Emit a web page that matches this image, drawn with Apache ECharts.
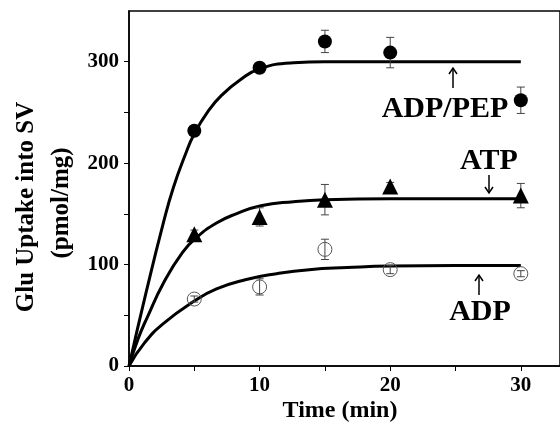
<!DOCTYPE html>
<html>
<head>
<meta charset="utf-8">
<script src="https://cdn.jsdelivr.net/npm/echarts@6/dist/echarts.min.js"></script>
<style>html,body{margin:0;padding:0;background:#fff}#c{width:560px;height:434px}</style>
</head>
<body>
<div id="c"></div>
<script>
// ---- data ----
var times = [5, 10, 15, 20, 30];
var adpPepMean = [232, 294, 320, 309, 262];
var adpPepErr = [4, 4, 11, 15, 13];
var atpMean = [130, 147, 164, 177, 168];
var atpErr = [4, 9, 15, 4, 12];
var adpMean = [66, 78, 115, 95, 91];
var adpErr = [3, 8, 10, 4, 3];

// fitted curves
var adpPepCurveT = [0, 1.3, 2.65, 3.4, 4.3, 5, 6.1, 7.1, 8.5, 10, 12.6, 15, 20, 30];
var adpPepCurveV = [0, 72, 142, 176, 208, 229, 252, 267, 282, 293, 299, 300, 300, 300];
var atpCurveT = [0, 0.7, 1.4, 2.65, 4.1, 5.2, 6.7, 8.2, 10.1, 12.6, 15, 20, 30];
var atpCurveV = [0, 27, 48, 82, 112, 127, 141, 150, 158, 162, 164, 165, 165];
var adpCurveT = [0, 1.2, 2.65, 5, 6.7, 8.9, 11.3, 13.8, 16.7, 20, 25, 30];
var adpCurveV = [0, 23, 42, 64, 76, 85, 91, 95, 97, 98.5, 99, 99];

var xTicks = [0, 5, 10, 15, 20, 25, 30];
var xLabels = [0, 10, 20, 30];
var yTicks = [0, 50, 100, 150, 200, 250, 300];
var yLabels = [0, 100, 200, 300];

function pairs(t, v) { return t.map(function (x, i) { return [x, v[i]]; }); }
function errData(m, e) { return times.map(function (t, i) { return [t, m[i] - e[i], m[i] + e[i]]; }); }

var FONT = 'Liberation Serif';
var chart = echarts.init(document.getElementById('c'));

function errSeries(m, e) {
  return {
    type: 'custom', z: 3,
    data: errData(m, e),
    renderItem: function (params, api) {
      var x = api.value(0);
      var lo = api.coord([x, api.value(1)]);
      var hi = api.coord([x, api.value(2)]);
      var w = 4;
      var st = { stroke: '#444', lineWidth: 1 };
      return { type: 'group', children: [
        { type: 'line', shape: { x1: lo[0], y1: lo[1], x2: hi[0], y2: hi[1] }, style: st },
        { type: 'line', shape: { x1: lo[0] - w, y1: lo[1], x2: lo[0] + w, y2: lo[1] }, style: st },
        { type: 'line', shape: { x1: hi[0] - w, y1: hi[1], x2: hi[0] + w, y2: hi[1] }, style: st }
      ]};
    }
  };
}
function curve(t, v) {
  return { type: 'line', data: pairs(t, v), smooth: true, showSymbol: false, z: 2,
    lineStyle: { color: '#000', width: 3 }, silent: true };
}

function arrow(x, yTip, yTail) {
  var dir = yTip < yTail ? 1 : -1;
  return { type: 'group', children: [
    { type: 'line', shape: { x1: x, y1: yTip, x2: x, y2: yTail }, style: { stroke: '#000', lineWidth: 1.5 } },
    { type: 'polyline', shape: { points: [[x - 4, yTip + dir * 6], [x, yTip], [x + 4, yTip + dir * 6]] }, style: { stroke: '#000', lineWidth: 1.5, fill: null } }
  ]};
}

chart.setOption({
  animation: false,
  grid: { left: 129, top: 11, width: 448.8, height: 355, show: true, borderColor: '#000', borderWidth: 1.5, backgroundColor: 'transparent' },
  xAxis: {
    type: 'value', min: 0, max: 33, splitLine: { show: false },
    axisLine: { lineStyle: { color: '#000', width: 1.5 } },
    axisTick: { customValues: xTicks, length: 5, lineStyle: { color: '#000', width: 1 } },
    axisLabel: { customValues: xLabels, color: '#000', fontFamily: FONT, fontWeight: 'bold', fontSize: 21, margin: 9 }
  },
  yAxis: {
    type: 'value', min: 0, max: 350, splitLine: { show: false },
    axisLine: { lineStyle: { color: '#000', width: 1.5 } },
    axisTick: { customValues: yTicks, length: 5, lineStyle: { color: '#000', width: 1 } },
    axisLabel: { customValues: yLabels, color: '#000', fontFamily: FONT, fontWeight: 'bold', fontSize: 21, margin: 10 }
  },
  series: [
    curve(adpPepCurveT, adpPepCurveV),
    curve(atpCurveT, atpCurveV),
    curve(adpCurveT, adpCurveV),
    errSeries(adpPepMean, adpPepErr),
    errSeries(atpMean, atpErr),
    errSeries(adpMean, adpErr),
    { type: 'scatter', z: 4, data: pairs(times, adpPepMean), symbol: 'circle', symbolSize: 14, itemStyle: { color: '#000', opacity: 1 } },
    { type: 'scatter', z: 4, data: pairs(times, atpMean), symbol: 'triangle', symbolSize: 16, itemStyle: { color: '#000', opacity: 1 } },
    { type: 'scatter', z: 4, data: pairs(times, adpMean), symbol: 'circle', symbolSize: 14, itemStyle: { color: 'rgba(0,0,0,0)', borderColor: '#555', borderWidth: 1, opacity: 1 } }
  ],
  graphic: [
    { type: 'text', x: 27, y: 207, rotation: Math.PI / 2, style: { text: 'Glu Uptake into SV', font: 'bold 25px "' + FONT + '"', fill: '#000', align: 'center', verticalAlign: 'middle' } },
    { type: 'text', x: 62, y: 203, rotation: Math.PI / 2, style: { text: '(pmol/mg)', font: 'bold 25px "' + FONT + '"', fill: '#000', align: 'center', verticalAlign: 'middle' } },
    { type: 'text', x: 340, y: 411, style: { text: 'Time (min)', font: 'bold 24px "' + FONT + '"', fill: '#000', align: 'center', verticalAlign: 'middle' } },
    { type: 'text', x: 445, y: 109, style: { text: 'ADP/PEP', font: 'bold 30px "' + FONT + '"', fill: '#000', align: 'center', verticalAlign: 'middle' } },
    { type: 'text', x: 489, y: 161, style: { text: 'ATP', font: 'bold 30px "' + FONT + '"', fill: '#000', align: 'center', verticalAlign: 'middle' } },
    { type: 'text', x: 480, y: 312, style: { text: 'ADP', font: 'bold 30px "' + FONT + '"', fill: '#000', align: 'center', verticalAlign: 'middle' } },
    arrow(453, 68, 88),
    arrow(489, 193, 175),
    arrow(479, 275, 295)
  ]
});
</script>
</body>
</html>
